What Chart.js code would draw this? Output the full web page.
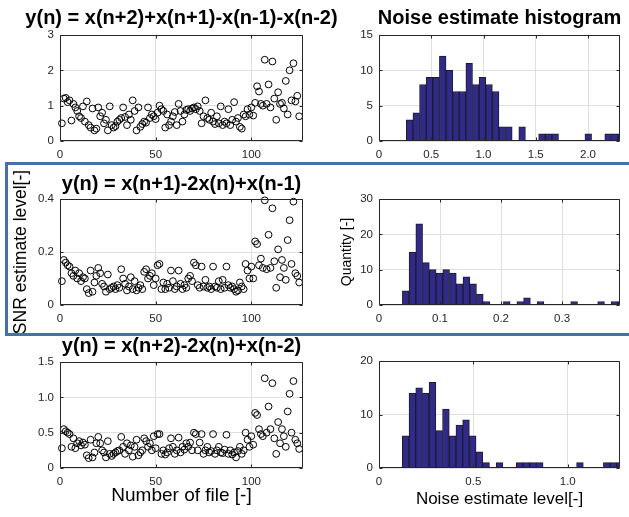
<!DOCTYPE html>
<html>
<head>
<meta charset="utf-8">
<title>Noise estimate</title>
<script src="https://cdn.jsdelivr.net/npm/chart.js@4.4.1/dist/chart.umd.min.js"></script>
<style>
  html, body { margin: 0; padding: 0; background: #fff; }
  #figure { position: relative; width: 629px; height: 517px; overflow: hidden; }
  #figure canvas { position: absolute; }
  #frame {
    position: absolute; left: 5px; top: 162px; width: 700px; height: 174px;
    box-sizing: border-box; border: 3px solid #4472a3;
  }
</style>
</head>
<body>
<div id="figure">
  <div id="frame"></div>
  <canvas id="scatter_a" width="363" height="162" style="left:0;top:0"></canvas>
  <canvas id="hist_a" width="319" height="162" style="left:340px;top:0"></canvas>
  <canvas id="scatter_b" width="363" height="168" style="left:0;top:165px"></canvas>
  <canvas id="hist_b" width="331" height="168" style="left:334px;top:165px"></canvas>
  <canvas id="scatter_c" width="363" height="183" style="left:0;top:334px"></canvas>
  <canvas id="hist_c" width="319" height="183" style="left:340px;top:334px"></canvas>
</div>
<script>
/*global document, Chart*/
(function (document, Chart) {
  "use strict";

  // noise estimate per file, one list per filter
  var noise_a = [
    0.50, 1.20, 1.22, 1.10, 1.15, 0.58, 1.05, 0.95, 0.85, 0.70,
    0.65, 0.98, 0.55, 1.12, 0.45, 0.38, 0.92, 0.30, 0.35, 0.95,
    0.70, 0.80, 0.50, 0.60, 0.30, 0.98, 0.45, 0.38, 0.42, 0.55,
    0.60, 0.65, 0.95, 0.68, 0.45, 0.75, 0.60, 1.15, 0.85, 0.30,
    0.95, 0.40, 0.48, 0.55, 0.52, 0.95, 0.65, 0.75, 0.70, 0.62,
    0.80, 1.00, 0.90, 0.85, 0.38, 0.75, 0.45, 0.55, 0.70, 0.82,
    0.45, 1.05, 0.85, 0.55, 0.75, 0.88, 0.90, 0.85, 0.92, 0.95,
    0.90, 0.98, 0.85, 0.50, 0.70, 1.15, 0.65, 0.60, 0.80, 0.55,
    0.48, 0.70, 0.50, 0.98, 0.45, 0.55, 0.50, 0.90, 0.45, 0.60,
    1.10, 0.55, 0.65, 0.40, 0.35, 0.75, 0.70, 0.90, 0.75, 0.95,
    0.72, 1.08, 1.55, 1.40, 1.05, 1.00, 2.30, 1.05, 1.60, 0.95,
    2.25, 1.20, 0.60, 1.38, 1.05, 1.08, 0.92, 1.70, 0.75, 2.00,
    1.15, 2.20, 1.12, 1.28, 0.70
  ];
  var noise_b = [
    0.090, 0.170, 0.160, 0.150, 0.145, 0.120, 0.110, 0.130, 0.100, 0.120,
    0.090, 0.105, 0.100, 0.060, 0.045, 0.130, 0.050, 0.085, 0.110, 0.140,
    0.120, 0.080, 0.070, 0.050, 0.115, 0.060, 0.065, 0.070, 0.060, 0.075,
    0.065, 0.135, 0.100, 0.080, 0.055, 0.070, 0.105, 0.060, 0.090, 0.055,
    0.065, 0.075, 0.060, 0.125, 0.135, 0.100, 0.110, 0.120, 0.075, 0.100,
    0.150, 0.155, 0.060, 0.085, 0.060, 0.080, 0.065, 0.130, 0.090, 0.060,
    0.070, 0.130, 0.080, 0.060, 0.075, 0.065, 0.100, 0.110, 0.090, 0.160,
    0.150, 0.075, 0.065, 0.145, 0.070, 0.095, 0.065, 0.070, 0.060, 0.145,
    0.070, 0.065, 0.090, 0.060, 0.095, 0.065, 0.145, 0.075, 0.065, 0.070,
    0.060, 0.050, 0.055, 0.085, 0.070, 0.060, 0.155, 0.130, 0.100, 0.145,
    0.100, 0.240, 0.230, 0.150, 0.175, 0.140, 0.395, 0.135, 0.265, 0.140,
    0.365, 0.165, 0.065, 0.210, 0.105, 0.170, 0.140, 0.095, 0.245, 0.320,
    0.155, 0.390, 0.120, 0.110, 0.085
  ];
  var noise_c = [
    0.28, 0.55, 0.52, 0.50, 0.48, 0.30, 0.42, 0.28, 0.35, 0.38,
    0.32, 0.36, 0.33, 0.18, 0.14, 0.40, 0.15, 0.22, 0.35, 0.44,
    0.35, 0.25, 0.22, 0.15, 0.38, 0.20, 0.17, 0.20, 0.22, 0.24,
    0.25, 0.44, 0.30, 0.20, 0.35, 0.25, 0.32, 0.16, 0.30, 0.40,
    0.18, 0.22, 0.25, 0.42, 0.38, 0.30, 0.35, 0.25, 0.45, 0.28,
    0.48, 0.48, 0.20, 0.25, 0.19, 0.22, 0.28, 0.42, 0.30, 0.20,
    0.25, 0.43, 0.22, 0.30, 0.26, 0.35, 0.30, 0.36, 0.25, 0.50,
    0.48, 0.25, 0.36, 0.48, 0.20, 0.25, 0.30, 0.22, 0.24, 0.48,
    0.20, 0.25, 0.30, 0.22, 0.21, 0.26, 0.47, 0.20, 0.25, 0.19,
    0.22, 0.15, 0.24, 0.30, 0.20, 0.25, 0.50, 0.40, 0.30, 0.45,
    0.33, 0.78, 0.75, 0.55, 0.48, 0.45, 1.27, 0.50, 0.87, 0.55,
    1.20, 0.42, 0.20, 0.65, 0.35, 0.55, 0.45, 0.30, 0.80, 1.05,
    0.50, 1.23, 0.40, 0.35, 0.27
  ];

  // histogram counts, first bin edge and bin width
  var hist_a_counts = [3, 4, 8, 9, 9, 12, 10, 7, 7, 11, 8, 9, 8, 7, 2, 2, 0,
    2, 0, 0, 1, 1, 1, 0, 0, 0, 0, 1, 0, 0, 1, 1, 1];
  var hist_b_counts = [4, 15, 23, 12, 10, 9, 10, 9, 6, 8, 6, 3, 1, 0, 0, 1, 0,
    1, 2, 0, 1, 0, 0, 0, 0, 1, 0, 0, 0, 1, 0, 1, 1];
  var hist_c_counts = [6, 14, 15, 14, 16, 7, 11, 6, 8, 9, 6, 3, 1, 0, 1, 0, 0,
    1, 1, 1, 1, 0, 0, 0, 0, 0, 1, 0, 0, 0, 1, 1, 1];
  var hist_a_bins = [0.2616, 0.0633];
  var hist_b_bins = [0.0383, 0.01104];
  var hist_c_bins = [0.1237, 0.03551];

  var titles = [
    "y(n) = x(n+2)+x(n+1)-x(n-1)-x(n-2)",
    "y(n) = x(n+1)-2x(n)+x(n-1)",
    "y(n) = x(n+2)-2x(n)+x(n-2)",
    "Noise estimate histogram"
  ];

  var INK = "#262626",
    GRID = "#dfdfdf",
    BAR = "#312b87";

  Chart.defaults.font.family = "'Liberation Sans', Arial, sans-serif";
  Chart.defaults.color = INK;

  // matlab like box with inward ticks
  var axes_box = {
    id: "axes_box",
    afterDatasetsDraw: function (chart) {
      var ctx = chart.ctx,
        area = chart.chartArea,
        xs = chart.scales.x,
        ys = chart.scales.y,
        l = Math.round(area.left) + 0.5,
        t = Math.round(area.top) + 0.5,
        r = Math.round(area.right) - 0.5,
        b = Math.round(area.bottom) - 0.5;
      ctx.save();
      ctx.strokeStyle = INK;
      ctx.lineWidth = 1;
      ctx.beginPath();
      ctx.rect(l, t, r - l, b - t);
      xs.ticks.forEach(function (tick) {
        var px = Math.round(xs.getPixelForValue(tick.value)) + 0.5;
        ctx.moveTo(px, b);
        ctx.lineTo(px, b - 3);
        ctx.moveTo(px, t);
        ctx.lineTo(px, t + 3);
      });
      ys.ticks.forEach(function (tick) {
        var py = Math.round(ys.getPixelForValue(tick.value)) + 0.5;
        ctx.moveTo(l, py);
        ctx.lineTo(l + 3, py);
        ctx.moveTo(r, py);
        ctx.lineTo(r - 3, py);
      });
      ctx.stroke();
      ctx.restore();
    }
  };

  function fixWidth(w) {
    return function (scale) { scale.width = w; };
  }
  function fixHeight(h) {
    return function (scale) { scale.height = h; };
  }

  function makeScales(p) {
    var scales = {
      x: {
        type: "linear",
        min: 0,
        max: p.xmax,
        offset: false,
        afterFit: fixHeight(p.xh),
        border: {display: false},
        grid: {color: GRID, drawTicks: false, offset: false},
        ticks: {stepSize: p.xstep, includeBounds: false, padding: 7,
          maxRotation: 0, autoSkip: false, font: {size: 11.5}},
        title: {display: false}
      },
      y: {
        type: "linear",
        min: 0,
        max: p.ymax,
        afterFit: fixWidth(p.yw),
        border: {display: false},
        grid: {color: GRID, drawTicks: false},
        ticks: {stepSize: p.ystep, includeBounds: false, padding: 6,
          font: {size: 11.5}},
        title: {display: false}
      },
      spacer: {
        type: "linear",
        position: "right",
        afterFit: fixWidth(p.yw),
        border: {display: false},
        grid: {display: false},
        ticks: {display: false}
      }
    };
    if (p.xlabel) {
      scales.x.title = {display: true, text: p.xlabel, color: "#000",
        font: {size: p.xlabel_size}, padding: {top: 0, bottom: p.xlabel_pad}};
    }
    if (p.ylabel) {
      scales.y.title = {display: true, text: p.ylabel, color: "#000",
        font: {size: p.ylabel_size}, padding: {top: p.ylabel_pad, bottom: 0}};
    }
    return scales;
  }

  function makeOptions(p) {
    return {
      responsive: false,
      animation: false,
      events: [],
      layout: {padding: {top: p.top || 0, left: 0, right: 0, bottom: 0}},
      scales: makeScales(p),
      plugins: {
        legend: {display: false},
        tooltip: {enabled: false},
        title: {
          display: !!p.title,
          text: p.title,
          color: "#000",
          font: {size: 20, weight: "bold"},
          padding: {top: p.tpad_top, bottom: p.tpad_bottom}
        }
      }
    };
  }

  function scatterPanel(id, values, p) {
    var points = values.map(function (v, i) {
      return {x: i + 1, y: v};
    });
    return new Chart(document.getElementById(id), {
      type: "scatter",
      data: {
        datasets: [{
          data: points,
          pointStyle: "circle",
          pointRadius: 3.4,
          pointBorderWidth: 1,
          borderColor: "#000",
          backgroundColor: "rgba(0,0,0,0)",
          clip: false
        }]
      },
      options: makeOptions(p),
      plugins: [axes_box]
    });
  }

  function histPanel(id, counts, bins, p) {
    var bars = counts.map(function (c, i) {
      return {x: bins[0] + bins[1] * (i + 0.5), y: c};
    });
    return new Chart(document.getElementById(id), {
      type: "bar",
      data: {
        datasets: [{
          data: bars,
          backgroundColor: BAR,
          borderColor: "#1b1b2e",
          borderWidth: {top: 1, left: 1, right: 1, bottom: 0},
          barPercentage: 1,
          categoryPercentage: 1
        }]
      },
      options: makeOptions(p),
      plugins: [axes_box]
    });
  }

  scatterPanel("scatter_a", noise_a, {
    title: titles[0], tpad_top: 6.5, tpad_bottom: 4.5,
    xmax: 127, xstep: 50, xh: 21, ymax: 3, ystep: 1, yw: 60
  });
  histPanel("hist_a", hist_a_counts, hist_a_bins, {
    title: titles[3], tpad_top: 6.5, tpad_bottom: 4.5,
    xmax: 2.306, xstep: 0.5, xh: 21, ymax: 15, ystep: 5, yw: 39
  });
  scatterPanel("scatter_b", noise_b, {
    title: titles[1], tpad_top: 7, tpad_bottom: 3,
    xmax: 127, xstep: 50, xh: 28, ymax: 0.4, ystep: 0.2, yw: 60,
    ylabel: "SNR estimate level[-]", ylabel_size: 17.5, ylabel_pad: 10.5
  });
  histPanel("hist_b", hist_b_counts, hist_b_bins, {
    top: 34,
    xmax: 0.395, xstep: 0.1, xh: 28, ymax: 30, ystep: 10, yw: 45,
    ylabel: "Quantity [-]", ylabel_size: 14, ylabel_pad: 4.6
  });
  scatterPanel("scatter_c", noise_c, {
    title: titles[2], tpad_top: 0, tpad_bottom: 4,
    xmax: 127, xstep: 50, xh: 49, ymax: 1.5, ystep: 0.5, yw: 60,
    xlabel: "Number of file [-]", xlabel_size: 19, xlabel_pad: 9.6
  });
  histPanel("hist_c", hist_c_counts, hist_c_bins, {
    top: 27,
    xmax: 1.277, xstep: 0.5, xh: 49, ymax: 20, ystep: 10, yw: 39,
    xlabel: "Noise estimate level[-]", xlabel_size: 17, xlabel_pad: 7.8
  });

}(document, Chart));
</script>
</body>
</html>
